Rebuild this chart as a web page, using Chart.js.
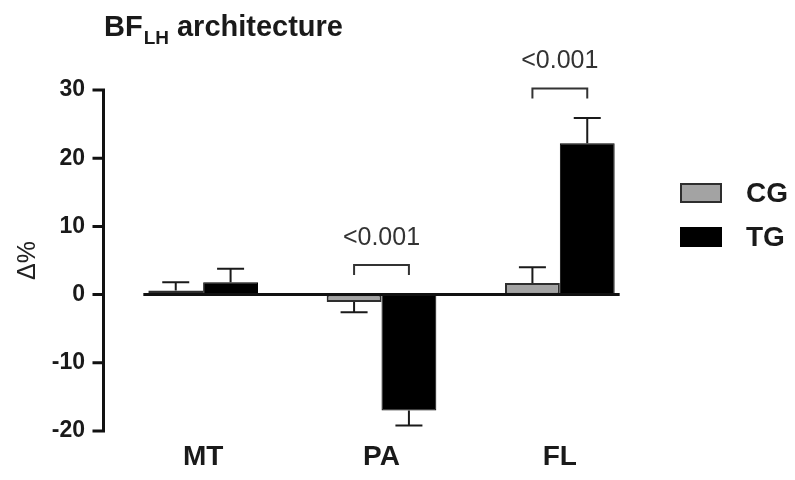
<!DOCTYPE html>
<html><head><meta charset="utf-8">
<script src="https://cdn.jsdelivr.net/npm/chart.js@4/dist/chart.umd.min.js"></script>
<style>html,body{margin:0;padding:0;background:#fff}canvas{display:block}</style>
</head><body>
<canvas id="c" width="795" height="480"></canvas>
<script>
const categories = ['MT', 'PA', 'FL'];
const seriesNames = ['CG', 'TG'];
const cgValues = [0.6, -1.1, 1.7];
const cgErrors = [1.2, 1.5, 2.3];
const tgValues = [1.8, -17.0, 22.2];
const tgErrors = [2.0, 2.2, 3.7];
const pValues = ['', '<0.001', '<0.001'];
const yTickValues = [-20, -10, 0, 10, 20, 30];

const FONT = "'Liberation Sans', Arial, sans-serif";
const INK = '#1a1a1a';

const decor = {
  id: 'decor',
  afterDatasetsDraw(chart) {
    const ctx = chart.ctx;
    const y = chart.scales.y;
    const area = chart.chartArea;
    const metas = [chart.getDatasetMeta(0), chart.getDatasetMeta(1)];
    const errs = [cgErrors, tgErrors];
    const vals = [cgValues, tgValues];
    ctx.save();
    // error bars
    ctx.strokeStyle = INK;
    ctx.lineWidth = 2;
    metas.forEach((m, s) => {
      m.data.forEach((bar, i) => {
        const v = vals[s][i];
        const e = errs[s][i];
        const end = v >= 0 ? v + e : v - e;
        const py = y.getPixelForValue(end);
        ctx.beginPath();
        ctx.moveTo(bar.x, bar.y);
        ctx.lineTo(bar.x, py);
        ctx.moveTo(bar.x - 13.5, py);
        ctx.lineTo(bar.x + 13.5, py);
        ctx.stroke();
      });
    });
    // zero line
    const first = metas[0].data[0];
    const last = metas[1].data[metas[1].data.length - 1];
    const y0 = y.getPixelForValue(0);
    ctx.lineWidth = 3;
    ctx.strokeStyle = '#111';
    ctx.beginPath();
    ctx.moveTo(first.x - first.width / 2 - 5, y0);
    ctx.lineTo(last.x + last.width / 2 + 5, y0);
    ctx.stroke();
    // significance brackets
    ctx.lineWidth = 2;
    ctx.strokeStyle = '#333';
    ctx.fillStyle = '#333';
    ctx.font = '25px ' + FONT;
    ctx.textAlign = 'center';
    ctx.textBaseline = 'middle';
    pValues.forEach((p, i) => {
      if (!p) return;
      let top = y0;
      [0, 1].forEach(s => {
        const v = vals[s][i];
        if (v > 0) top = Math.min(top, y.getPixelForValue(v + errs[s][i]));
      });
      const by = top - 29.5;
      const x1 = metas[0].data[i].x, x2 = metas[1].data[i].x;
      ctx.beginPath();
      ctx.moveTo(x1, by + 10);
      ctx.lineTo(x1, by);
      ctx.lineTo(x2, by);
      ctx.lineTo(x2, by + 10);
      ctx.stroke();
      ctx.fillText(p, (x1 + x2) / 2, by - 27);
    });
    // y axis line and tick marks
    const ax = area.left - 10.5;
    ctx.strokeStyle = '#111';
    ctx.lineWidth = 3;
    ctx.beginPath();
    ctx.moveTo(ax, y.getPixelForValue(y.max) - 1.5);
    ctx.lineTo(ax, y.getPixelForValue(y.min) + 1.5);
    y.ticks.forEach(t => {
      const ty = y.getPixelForValue(t.value);
      ctx.moveTo(ax, ty);
      ctx.lineTo(ax - 11, ty);
    });
    ctx.stroke();
    ctx.restore();
  },
  afterDraw(chart) {
    const ctx = chart.ctx;
    ctx.save();
    ctx.fillStyle = INK;
    ctx.textBaseline = 'alphabetic';
    ctx.textAlign = 'left';
    // title with subscript
    let x = 104;
    ctx.font = 'bold 29px ' + FONT;
    ctx.fillText('BF', x, 36);
    x += ctx.measureText('BF').width + 1;
    ctx.font = 'bold 19px ' + FONT;
    ctx.fillText('LH', x, 44);
    x += ctx.measureText('LH').width + 8;
    ctx.font = 'bold 29px ' + FONT;
    ctx.fillText('architecture', x, 36);
    // legend
    const ds = chart.data.datasets;
    ds.forEach((d, i) => {
      const top = 183 + i * 44;
      ctx.fillStyle = d.backgroundColor;
      ctx.fillRect(680, top, 42, 20);
      ctx.strokeStyle = d.borderColor;
      ctx.lineWidth = 2;
      ctx.strokeRect(681, top + 1, 40, 18);
      ctx.fillStyle = INK;
      ctx.font = 'bold 28px ' + FONT;
      ctx.textBaseline = 'middle';
      ctx.fillText(d.label, 746, top + 11);
    });
    ctx.restore();
  }
};

new Chart(document.getElementById('c'), {
  type: 'bar',
  data: {
    labels: categories,
    datasets: [
      { label: seriesNames[0], data: cgValues, backgroundColor: '#a3a3a3', borderColor: '#2e2e2e', borderWidth: 2, borderSkipped: false },
      { label: seriesNames[1], data: tgValues, backgroundColor: '#000000', borderColor: '#000000', borderWidth: 1, borderSkipped: false }
    ]
  },
  options: {
    responsive: false,
    animation: false,
    events: [],
    layout: { padding: { left: 9, right: 146, top: 90, bottom: 0 } },
    datasets: { bar: { categoryPercentage: 0.615, barPercentage: 1 } },
    plugins: { legend: { display: false }, tooltip: { enabled: false }, title: { display: false } },
    scales: {
      x: {
        grid: { display: false, drawTicks: false },
        border: { display: false },
        ticks: { color: INK, font: { family: FONT, size: 28, weight: 'bold' }, padding: 9 },
        afterFit(scale) { scale.height = 49; }
      },
      y: {
        min: -20, max: 30,
        afterBuildTicks(scale) { scale.ticks = yTickValues.map(v => ({ value: v })); },
        grid: { display: false, drawTicks: false },
        border: { display: false },
        ticks: { color: INK, font: { family: FONT, size: 23, weight: 'bold' }, padding: 29 },
        title: { display: true, text: 'Δ%', color: '#222', font: { family: FONT, size: 25 }, padding: { top: 4, bottom: 4 } },
        afterFit(scale) { scale.width = 105; }
      }
    }
  },
  plugins: [decor]
});
</script>
</body></html>
